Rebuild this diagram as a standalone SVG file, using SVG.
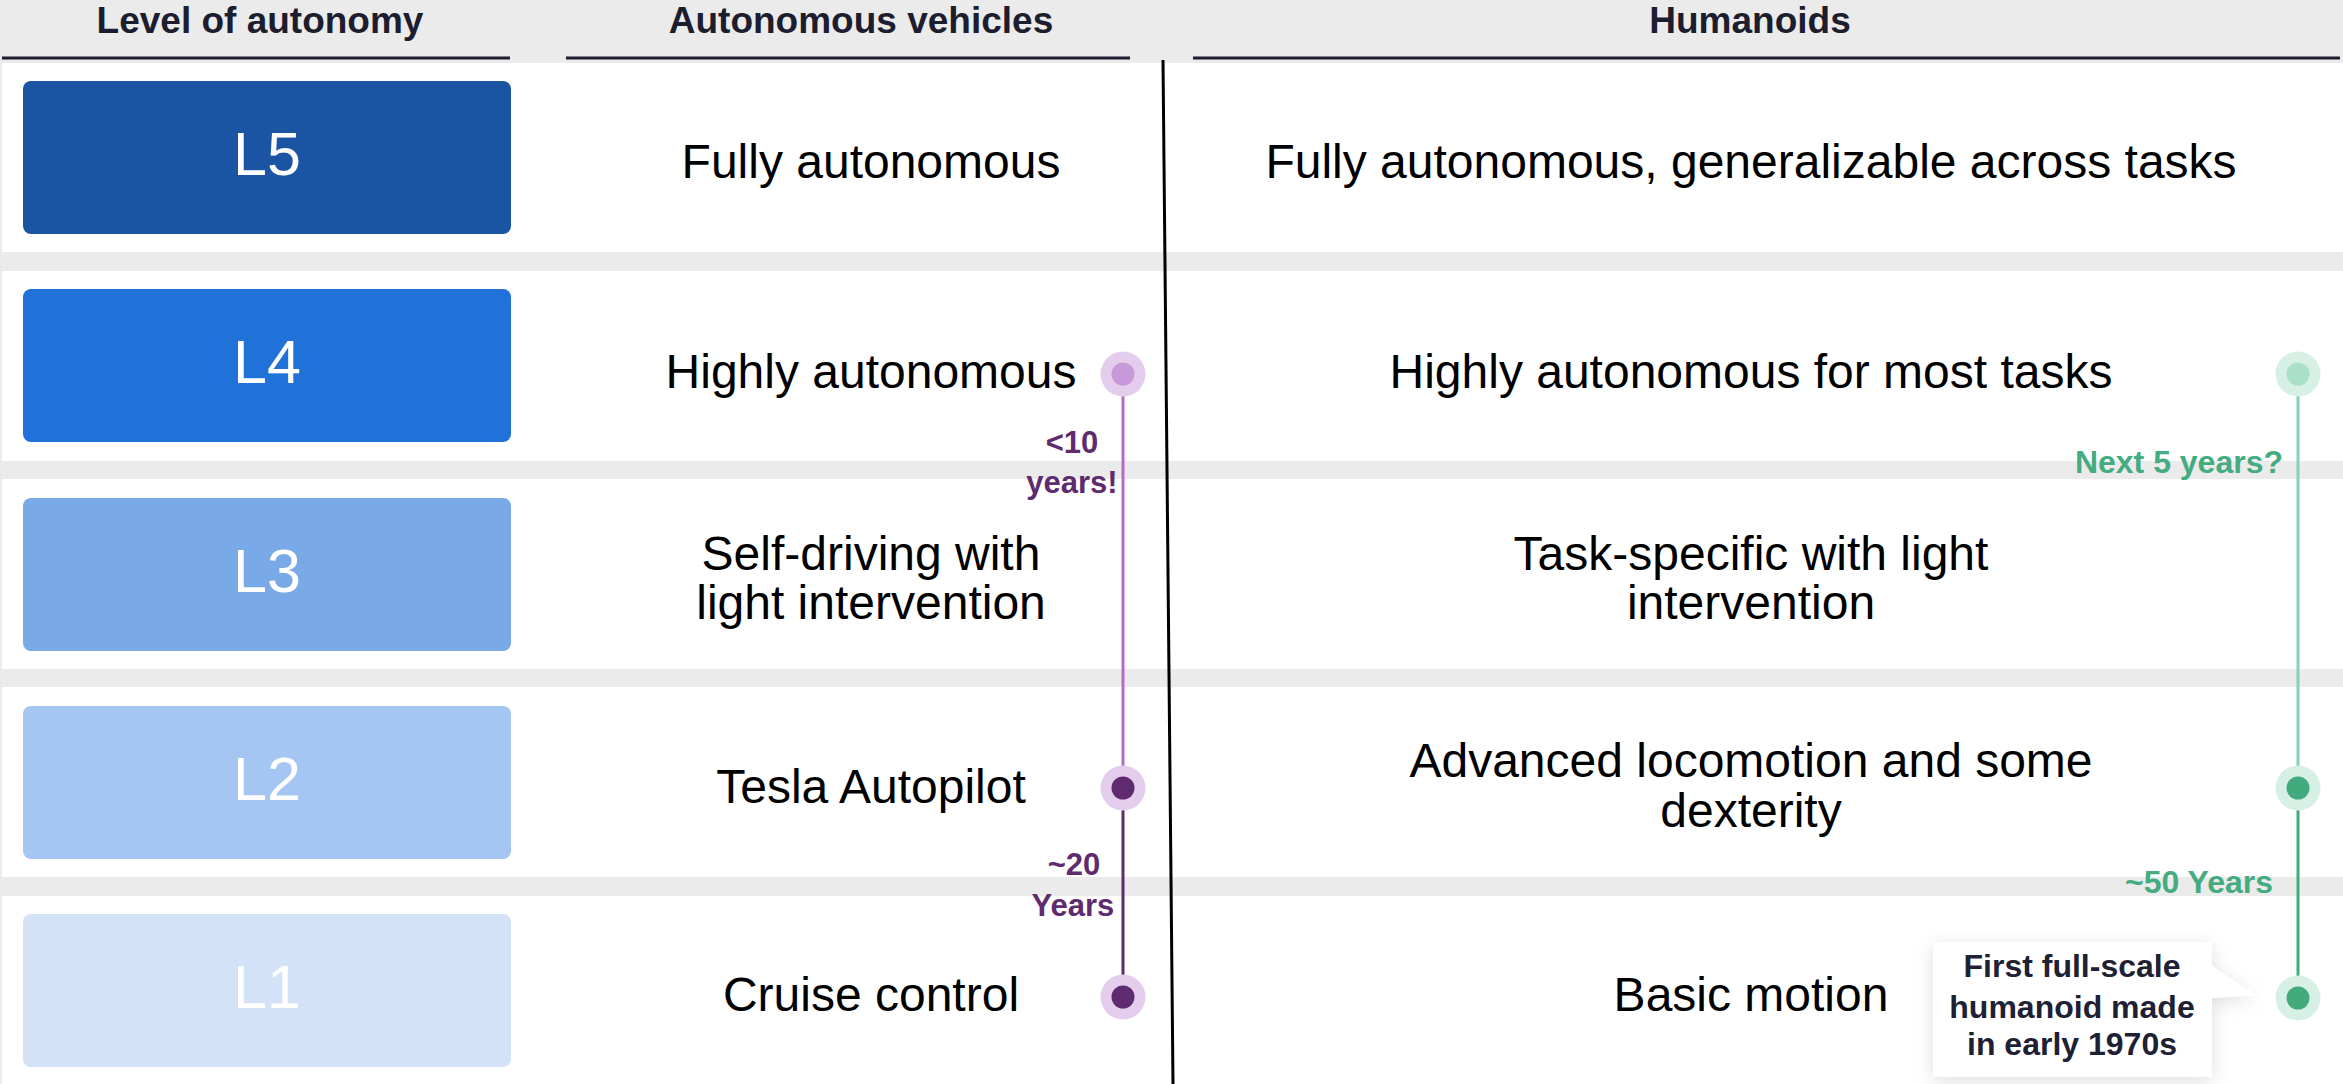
<svg xmlns="http://www.w3.org/2000/svg" width="2343" height="1084" viewBox="0 0 2343 1084">
<defs>
<style>
.hdr{font-family:"Liberation Sans",Arial,sans-serif;font-weight:bold;font-size:37px;fill:#1c1d2e;text-anchor:middle}
.hl{stroke:#1c1d2e;stroke-width:3}
.row{fill:#ffffff}
.lvl{font-family:"Liberation Sans",Arial,sans-serif;font-size:61px;fill:#ffffff;text-anchor:middle}
.txt{font-family:"Liberation Sans",Arial,sans-serif;font-size:48px;fill:#000000;text-anchor:middle}
.pl{font-family:"Liberation Sans",Arial,sans-serif;font-weight:bold;font-size:31px;fill:#5f2b6f;text-anchor:middle}
.gl{font-family:"Liberation Sans",Arial,sans-serif;font-weight:bold;font-size:32px;fill:#45ab80;text-anchor:end}
.call{font-family:"Liberation Sans",Arial,sans-serif;font-weight:bold;font-size:32px;fill:#1e2033;text-anchor:middle}
.pOut{fill:#e4cdec}
.gOut{fill:#d6f0e5}
</style>
<filter id="sh" x="-20%" y="-20%" width="140%" height="150%">
<feDropShadow dx="0" dy="4" stdDeviation="9" flood-color="#000" flood-opacity="0.13"/>
</filter>
</defs>
<rect x="0" y="0" width="2343" height="1084" fill="#ebebeb"/>

<g id="header">
<text class="hdr" x="260" y="33">Level of autonomy</text>
<text class="hdr" x="861" y="33">Autonomous vehicles</text>
<text class="hdr" x="1750" y="33">Humanoids</text>
<line class="hl" x1="2" y1="58" x2="510" y2="58"/>
<line class="hl" x1="566" y1="58" x2="1130" y2="58"/>
<line class="hl" x1="1193" y1="58" x2="2340" y2="58"/>
</g>

<g id="row-L5">
<rect class="row" x="2" y="63" width="2341" height="189"/>
<rect x="23" y="81" width="488" height="153" rx="8" fill="#1b54a3"/>
<text class="lvl" x="267" y="175">L5</text>
<text class="txt" x="871" y="178">Fully autonomous</text>
<text class="txt" x="1751" y="178">Fully autonomous, generalizable across tasks</text>
</g>

<g id="row-L4">
<rect class="row" x="2" y="271" width="2341" height="190"/>
<rect x="23" y="289" width="488" height="153" rx="8" fill="#2072d8"/>
<text class="lvl" x="267" y="383">L4</text>
<text class="txt" x="871" y="388">Highly autonomous</text>
<text class="txt" x="1751" y="388">Highly autonomous for most tasks</text>
</g>

<g id="row-L3">
<rect class="row" x="2" y="479" width="2341" height="190"/>
<rect x="23" y="498" width="488" height="153" rx="8" fill="#7aa9e8"/>
<text class="lvl" x="267" y="592">L3</text>
<text class="txt" x="871" y="570">Self-driving with</text>
<text class="txt" x="871" y="619">light intervention</text>
<text class="txt" x="1751" y="570">Task-specific with light</text>
<text class="txt" x="1751" y="619">intervention</text>
</g>

<g id="row-L2">
<rect class="row" x="2" y="687" width="2341" height="190"/>
<rect x="23" y="706" width="488" height="153" rx="8" fill="#a5c6f2"/>
<text class="lvl" x="267" y="800">L2</text>
<text class="txt" x="871" y="803">Tesla Autopilot</text>
<text class="txt" x="1751" y="777">Advanced locomotion and some</text>
<text class="txt" x="1751" y="827">dexterity</text>
</g>

<g id="row-L1">
<rect class="row" x="2" y="896" width="2341" height="188"/>
<rect x="23" y="914" width="488" height="153" rx="8" fill="#d3e2f7"/>
<text class="lvl" x="267" y="1008">L1</text>
<text class="txt" x="871" y="1011">Cruise control</text>
<text class="txt" x="1751" y="1011">Basic motion</text>
</g>

<g id="divider">
<line x1="1163" y1="60" x2="1173" y2="1084" stroke="#000" stroke-width="3"/>
</g>

<g id="connectors">
<line x1="1123" y1="374" x2="1123" y2="788" stroke="#b06cc9" stroke-width="3"/>
<line x1="1123" y1="788" x2="1123" y2="997" stroke="#5f2b6f" stroke-width="3"/>
<line x1="2298" y1="374" x2="2298" y2="788" stroke="#86d1b1" stroke-width="3"/>
<line x1="2298" y1="788" x2="2298" y2="997" stroke="#43aa7d" stroke-width="3"/>
</g>

<g id="av-L4-dot"><circle class="pOut" cx="1123" cy="374" r="22.5"/><circle cx="1123" cy="374" r="11.5" fill="#c899d8"/></g>
<g id="av-L2-dot"><circle class="pOut" cx="1123" cy="788" r="22.5"/><circle cx="1123" cy="788" r="11.5" fill="#5f2b6f"/></g>
<g id="av-L1-dot"><circle class="pOut" cx="1123" cy="997" r="22.5"/><circle cx="1123" cy="997" r="11.5" fill="#5f2b6f"/></g>
<g id="hu-L4-dot"><circle class="gOut" cx="2298" cy="374" r="22.5"/><circle cx="2298" cy="374" r="11.5" fill="#aadfc8"/></g>
<g id="hu-L2-dot"><circle class="gOut" cx="2298" cy="788" r="22.5"/><circle cx="2298" cy="788" r="11.5" fill="#43aa7d"/></g>
<g id="hu-L1-dot"><circle class="gOut" cx="2298" cy="998" r="22.5"/><circle cx="2298" cy="998" r="11.5" fill="#43aa7d"/></g>

<g id="labels">
<text class="pl" x="1072" y="453">&lt;10</text>
<text class="pl" x="1072" y="493">years!</text>
<text class="pl" x="1074" y="875">~20</text>
<text class="pl" x="1073" y="916">Years</text>
<text class="gl" x="2283" y="473">Next 5 years?</text>
<text class="gl" x="2273" y="893">~50 Years</text>
</g>

<g id="callout">
<path d="M1933,942 H2212 V966 L2256,995 L2212,998 V1077 H1933 Z" fill="#ffffff" filter="url(#sh)"/>
<text class="call" x="2072" y="977">First full-scale</text>
<text class="call" x="2072" y="1018">humanoid made</text>
<text class="call" x="2072" y="1055">in early 1970s</text>
</g>
</svg>
